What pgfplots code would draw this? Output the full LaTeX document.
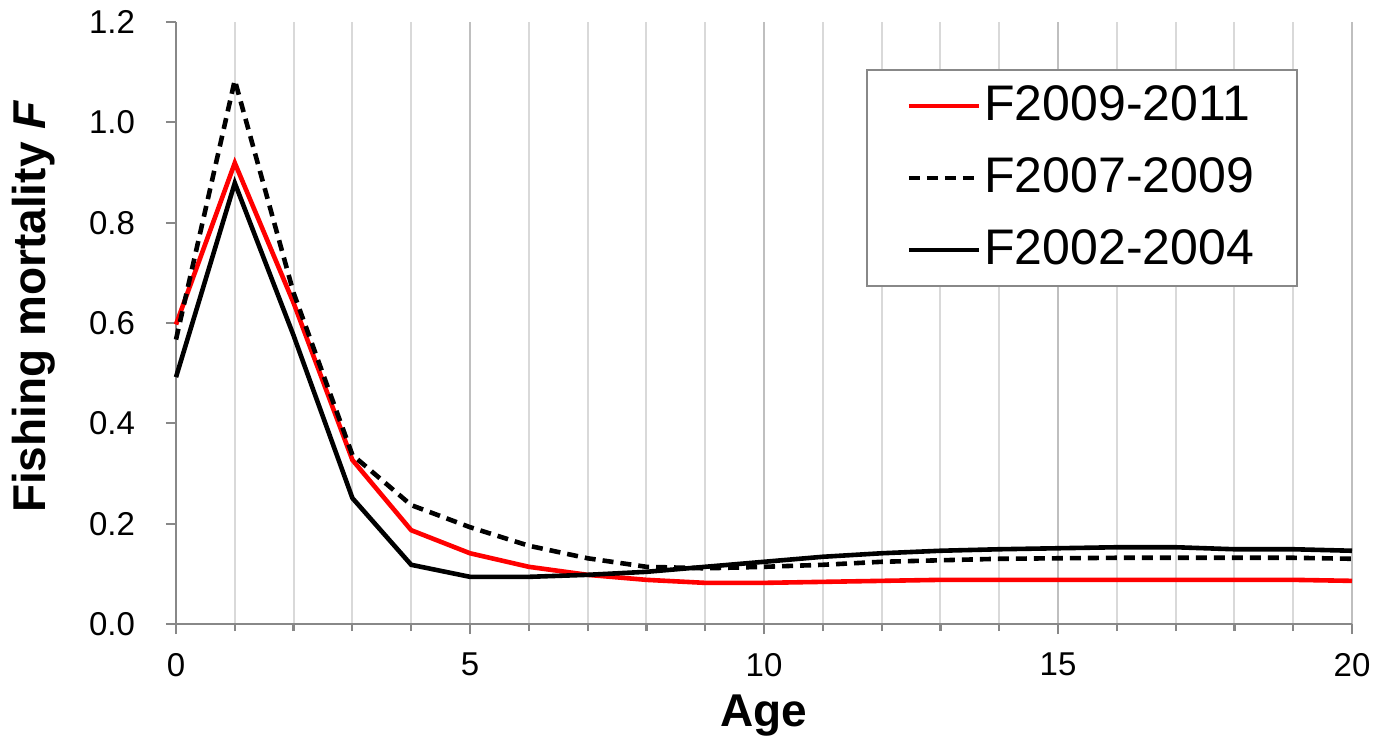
\documentclass[border=0pt]{standalone}
\usepackage{pgfplots}
\pgfplotsset{compat=1.18}
\usepackage{fontspec}
\setmainfont{Liberation Sans}
\definecolor{axgray}{HTML}{888888}
\definecolor{gridmaj}{HTML}{BFBFBF}
\definecolor{gridmin}{HTML}{D9D9D9}
\definecolor{redline}{HTML}{FF0000}
\pgfplotstableread{
age red dash black
0 0.597 0.567 0.492
1 0.919 1.084 0.879
2 0.640 0.660 0.575
3 0.327 0.337 0.251
4 0.187 0.237 0.118
5 0.141 0.193 0.094
6 0.114 0.156 0.094
7 0.098 0.131 0.098
8 0.088 0.114 0.104
9 0.082 0.111 0.114
10 0.082 0.114 0.124
11 0.084 0.118 0.134
12 0.086 0.124 0.141
13 0.088 0.127 0.146
14 0.088 0.130 0.149
15 0.088 0.131 0.151
16 0.088 0.132 0.153
17 0.088 0.132 0.153
18 0.088 0.132 0.149
19 0.088 0.132 0.149
20 0.086 0.130 0.146
}\datatable
\begin{document}
\begin{tikzpicture}
\begin{axis}[
  scale only axis,
  width=588bp, height=301bp,
  xmin=0, xmax=20, ymin=0, ymax=1.2,
  axis x line*=bottom, axis y line*=left,
  axis line style={draw=axgray, line width=1.2bp},
  xtick={0,5,10,15,20},
  minor xtick={1,2,3,4,6,7,8,9,11,12,13,14,16,17,18,19},
  ytick={0,0.2,0.4,0.6,0.8,1.0,1.2},
  yticklabel style={/pgf/number format/fixed, /pgf/number format/fixed zerofill, /pgf/number format/precision=1, xshift=-12bp},
  /pgf/number format/assume math mode=true,
  tick style={draw=axgray, line width=1.1bp},
  major tick length=5bp, minor tick length=3.5bp,
  tick align=outside,
  xmajorgrids, xminorgrids,
  major grid style={draw=gridmaj, line width=1bp},
  minor grid style={draw=gridmin, line width=1bp},
  ticklabel style={font=\fontsize{16.5bp}{19bp}\selectfont, text=black},
  xticklabel style={yshift=-6bp},
  xlabel={\textbf{Age}},
  ylabel={\textbf{Fishing mortality \textit{F}}},
  label style={font=\fontsize{23bp}{27bp}\selectfont},
  xlabel style={at={(axis description cs:0.5,-0.152)}, anchor=center},
  ylabel style={at={(axis description cs:-0.1207,0.527)}, anchor=center, rotate=0},
  clip=false,
  legend style={at={(axis cs:19.08,1.106)}, anchor=north east,
    draw=axgray, line width=1bp, fill=white,
    font=\fontsize{25bp}{30bp}\selectfont,
    inner xsep=20bp, inner ysep=0bp,
    nodes={inner xsep=1.5bp, inner ysep=0bp, text height=20bp, text depth=6bp, minimum height=36bp}},
  legend cell align=left,
  legend image code/.code={\draw[#1] (0bp,0bp) -- (35bp,0bp);},
]
\addplot[draw=redline, line width=2.3bp] table[x=age, y=red] {\datatable};
\addlegendentry{F2009-2011}
\addplot[draw=black, line width=2.3bp, dash pattern=on 5.5bp off 3.5bp] table[x=age, y=dash] {\datatable};
\addlegendentry{F2007-2009}
\addplot[draw=black, line width=2.3bp] table[x=age, y=black] {\datatable};
\addlegendentry{F2002-2004}
\end{axis}
\pgfresetboundingbox
\useasboundingbox ([shift={(-88bp,-58.5bp)}]current axis.south west) rectangle ([shift={(12bp,11bp)}]current axis.north east);
\end{tikzpicture}
\end{document}
